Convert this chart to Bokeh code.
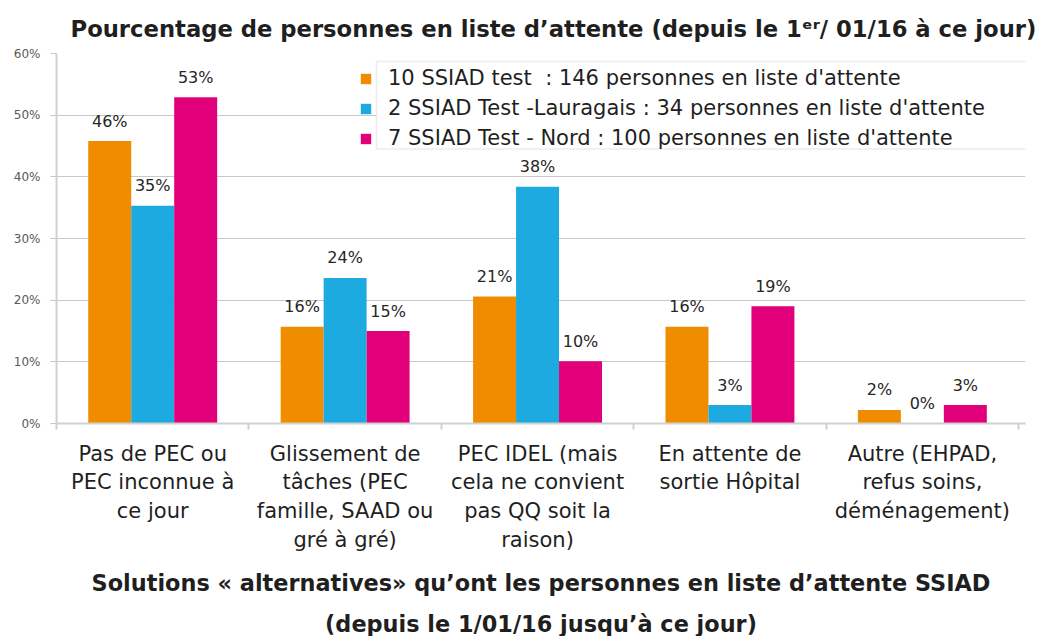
from bokeh.plotting import figure
from bokeh.models import (Range1d, FixedTicker, PrintfTickFormatter, Legend, LegendItem,
                          BoxAnnotation, Title, ColumnDataSource)
from bokeh.core.properties import value
from bokeh.embed import file_html
from bokeh.resources import INLINE

# ---------------- data ----------------
categories = [
    "Pas de PEC ou\nPEC inconnue à\nce jour",
    "Glissement de\ntâches (PEC\nfamille, SAAD ou\ngré à gré)",
    "PEC IDEL (mais\ncela ne convient\npas QQ soit la\nraison)",
    "En attente de\nsortie Hôpital",
    "Autre (EHPAD,\nrefus soins,\ndéménagement)",
]
series_names = [
    "10 SSIAD test  : 146 personnes en liste d'attente",
    "2 SSIAD Test -Lauragais : 34 personnes en liste d'attente",
    "7 SSIAD Test - Nord : 100 personnes en liste d'attente",
]
series_colors = ["#F08C00", "#1DAAE1", "#E2007A"]
ssiad_test = [45.8, 15.7, 20.6, 15.7, 2.2]
ssiad_lauragais = [35.3, 23.6, 38.4, 3.0, 0.0]
ssiad_nord = [52.9, 15.0, 10.1, 19.0, 3.0]
y_ticks = [0, 10, 20, 30, 40, 50, 60]

title_top = "Pourcentage de personnes en liste d’attente (depuis le 1ᵉʳ/ 01/16 à ce jour)"
title_bottom_1 = "Solutions « alternatives» qu’ont les personnes en liste d’attente SSIAD"
title_bottom_2 = "(depuis le 1/01/16 jusqu’à ce jour)"

FONT = "DejaVu Sans"
TXT = "#1f1f1f"

n = len(categories)
p = figure(width=1060, height=636, output_backend="svg", toolbar_location=None,
           x_range=Range1d(0, n + 0.036), y_range=Range1d(0, 60),
           min_border_left=56, min_border_right=35, min_border_top=53, min_border_bottom=211)
p.outline_line_color = None
p.background_fill_color = "white"

# title
p.title.text = title_top
p.title.align = "left"
p.title.offset = 14
p.title.standoff = 24
p.title.text_font = FONT
p.title.text_font_size = "22.7px"
p.title.text_font_style = "bold"
p.title.text_color = TXT

# bars
series = [ssiad_test, ssiad_lauragais, ssiad_nord]
group_width = 0.67
bar_w = group_width / len(series)
renderers = []
for k, (vals, color) in enumerate(zip(series, series_colors)):
    xs = [i + 0.5 + (k - 1) * bar_w for i in range(n)]
    src = ColumnDataSource(dict(x=xs, top=vals, label=[f"{round(v)}%" for v in vals]))
    r = p.vbar(x="x", top="top", width=bar_w, source=src, fill_color=color, line_color=None)
    p.text(x="x", y="top", text="label", source=src, text_align="center",
           text_baseline="middle", y_offset=-20, text_font=value(FONT),
           text_font_size="16px", text_color="#262626")
    renderers.append(r)

# x axis
xa = p.xaxis[0]
xa.ticker = FixedTicker(ticks=[i + 0.5 for i in range(n)], minor_ticks=list(range(n + 1)))
xa.major_label_overrides = {i + 0.5: categories[i] for i in range(n)}
xa.major_tick_out = 0
xa.major_tick_in = 0
xa.minor_tick_out = 6
xa.minor_tick_in = 0
xa.minor_tick_line_color = "#d0d0d0"
xa.minor_tick_line_width = 2
xa.axis_line_color = "#d0d0d0"
xa.axis_line_width = 2
xa.major_label_text_font = FONT
xa.major_label_text_font_size = "21px"
xa.major_label_text_color = TXT
xa.major_label_text_line_height = 1.2
xa.major_label_standoff = 12
p.xgrid.grid_line_color = None

# y axis
ya = p.yaxis[0]
ya.ticker = FixedTicker(ticks=y_ticks)
ya.formatter = PrintfTickFormatter(format="%d%%")
ya.major_tick_out = 6
ya.major_tick_in = 0
ya.minor_tick_line_color = None
ya.major_tick_line_color = "#c8c8c8"
ya.axis_line_color = "#d0d0d0"
ya.axis_line_width = 2
ya.major_label_text_font = FONT
ya.major_label_text_font_size = "12px"
ya.major_label_text_color = "#595959"
ya.major_label_standoff = 10
p.ygrid.grid_line_color = "#c8c8c8"
p.ygrid.grid_line_width = 1.2

# legend box + legend
box = BoxAnnotation(left=1.663, right=n + 0.3, top=58.7, bottom=44.5,
                    fill_color="white", fill_alpha=1.0,
                    line_color="#c4c4c4", line_width=1.5)
p.add_layout(box)
legend = Legend(items=[LegendItem(label=nm, renderers=[r]) for nm, r in zip(series_names, renderers)],
                location=(303, 270), orientation="vertical",
                border_line_color=None, background_fill_alpha=0,
                label_text_font=FONT, label_text_font_size="21px", label_text_color=TXT,
                glyph_width=13, glyph_height=13, label_standoff=16,
                label_height=30, spacing=0, padding=0, margin=0)
p.add_layout(legend)

# bottom titles
for txt, so in ((title_bottom_1, 26), (title_bottom_2, 0)):
    t = Title(text=txt, align="center", text_font=FONT, text_font_size="22.4px",
              text_font_style="bold", text_color=TXT, standoff=so)
    p.add_layout(t, "below")

open("out.html", "w").write(file_html(p, INLINE))
